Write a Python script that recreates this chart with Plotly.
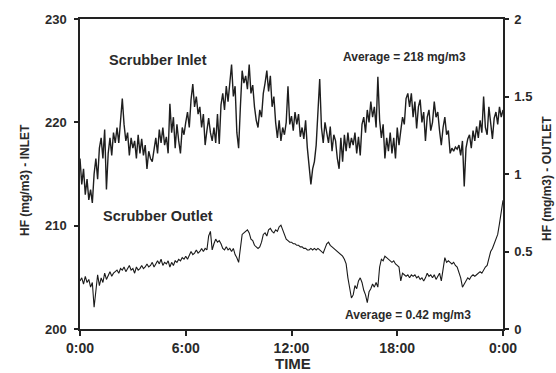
import numpy as np
import plotly.graph_objects as go

# time in hours, 0.1 h steps over one day
hours = np.round(np.arange(0, 24.0001, 0.1), 2)

tick_hours = [0, 6, 12, 18, 24]
tick_labels = ["0:00", "6:00", "12:00", "18:00", "0:00"]
left_ticks = [200, 210, 220, 230]
right_ticks = [0, 0.5, 1, 1.5, 2]
right_tick_labels = ["0", "0.5", "1", "1.5", "2"]

# HF at scrubber inlet, mg/m3 (left axis)
inlet = [
    216.5, 214, 215.5, 213, 214.5, 212.5,
    213.5, 212.2, 215, 216.5, 214.5,
    217.5, 218.5, 216.5, 219.3, 213.5,
    217, 218.5, 216.8, 219, 218,
    219.5, 218, 220.5, 222.3, 219.8,
    218.2, 219, 216.8, 218.5, 217.5,
    218.2, 216.5, 218.8, 217, 218.4,
    216.8, 217.8, 215.5, 217.2, 216.5,
    216.2, 217.5, 218.5, 217, 219.3,
    218, 219.5, 217.8, 218.6, 217,
    221.8, 219, 220.5, 217.5, 219.8,
    218.2, 217, 219.5, 218.8, 220,
    221, 219.5, 222.2, 223.7, 221.5,
    222.5, 220.8, 221.5, 219.5, 220.8,
    217.8, 219.2, 220.4, 219, 218.2,
    219.5, 218, 220.8, 217.9, 221.7,
    222.8, 221.2, 223.5, 222, 224.2,
    225.6, 222.5, 223.5, 219, 217.5,
    221.5, 225, 223.8, 224.5, 223.2,
    225.6, 222.8, 223.6, 221.5, 220.2,
    219.5, 221.2, 220.5, 222.8, 223.8,
    225, 223, 224.5, 221.5, 222.5,
    220, 218.5, 220.2, 218.2, 219.5,
    218.8, 220, 223.5, 219.8, 220.6,
    219.2, 221, 219.8, 220.8, 218.6,
    219.5, 218.4, 220.2, 217.5, 215.8,
    214, 215.5, 216.2, 217.8, 221,
    224.2, 219.5, 218, 220, 219,
    218, 219.6, 217.2, 218.8, 218.2,
    216.5, 215.5, 218.5, 216.2, 218.8,
    217.2, 219, 217.5, 218.5, 217.8,
    219, 217, 218.6, 216.8, 219.8,
    220.5, 219, 221.2, 220, 222,
    220.5, 221.5, 219.5, 224.4, 220.2,
    218.5, 219.8, 216.5, 218.5, 217.2,
    219, 217, 218.5, 216.5, 219.5,
    217.8, 219.2, 220.5, 219.8, 222.3,
    222.8, 221.5, 222.8, 220.5, 222,
    219.4, 221.5, 222.2, 220, 221,
    218.2, 220.5, 221.2, 219.2, 220,
    222, 220.5, 221, 219.2, 217.8,
    219.5, 220.5, 218.8, 219.2, 217,
    217.5, 217.2, 217.6, 217.4, 217.8,
    216.8, 218.2, 213.8, 217.5, 218.4,
    218.8, 217.5, 219.2, 218.2, 219.6,
    218.5, 220.2, 219, 222.5, 219.5,
    218.8, 221.5, 220.2, 218.4, 220.4,
    221, 219.8, 221.5, 220.5, 221.2,
]

# HF at scrubber outlet, mg/m3 (right axis)
outlet = [
    0.31, 0.33, 0.29, 0.34, 0.30,
    0.32, 0.27, 0.30, 0.14, 0.26,
    0.35, 0.28, 0.33, 0.30, 0.36,
    0.32, 0.35, 0.37, 0.34, 0.36,
    0.37, 0.38, 0.36, 0.39, 0.38,
    0.40, 0.37, 0.39, 0.41, 0.38,
    0.39, 0.36, 0.40, 0.38, 0.39,
    0.41, 0.39, 0.40, 0.42, 0.40,
    0.41, 0.43, 0.40, 0.42, 0.44,
    0.42, 0.45, 0.41, 0.43, 0.42,
    0.44, 0.40, 0.43, 0.41, 0.44,
    0.43, 0.45, 0.44, 0.46, 0.45,
    0.47, 0.45, 0.48, 0.50, 0.48,
    0.49, 0.51, 0.49, 0.50, 0.52,
    0.50, 0.52, 0.51, 0.60, 0.63,
    0.51, 0.55, 0.58, 0.56, 0.57,
    0.55, 0.52, 0.51, 0.53, 0.51,
    0.52, 0.50, 0.52, 0.48, 0.46,
    0.43, 0.52, 0.61, 0.62, 0.63,
    0.64, 0.62, 0.58, 0.57, 0.54,
    0.53, 0.52, 0.53, 0.56, 0.61,
    0.62, 0.60, 0.64, 0.65, 0.63,
    0.62, 0.64, 0.63, 0.66, 0.67,
    0.64, 0.60, 0.58, 0.57, 0.56,
    0.56, 0.55, 0.55, 0.54, 0.54,
    0.53, 0.53, 0.52, 0.52, 0.51,
    0.51, 0.52, 0.51, 0.52, 0.51,
    0.52, 0.51, 0.50, 0.49, 0.52,
    0.55, 0.56, 0.54, 0.53, 0.52,
    0.51, 0.50, 0.49, 0.48, 0.47,
    0.45, 0.42, 0.33, 0.26, 0.20,
    0.22, 0.28, 0.26, 0.31, 0.33,
    0.30, 0.25, 0.22, 0.17, 0.24,
    0.26, 0.29, 0.27, 0.30, 0.27,
    0.40, 0.45, 0.44, 0.47, 0.46,
    0.45, 0.44, 0.43, 0.44, 0.42,
    0.41, 0.40, 0.31, 0.36, 0.35,
    0.34, 0.35, 0.33, 0.35, 0.34,
    0.35, 0.33, 0.34, 0.32, 0.33,
    0.31, 0.33, 0.36, 0.34, 0.35,
    0.33, 0.35, 0.32, 0.34, 0.36,
    0.31, 0.40, 0.46, 0.43, 0.44,
    0.43, 0.42, 0.43, 0.41, 0.40,
    0.36, 0.33, 0.27, 0.29, 0.31,
    0.33, 0.32, 0.34, 0.35, 0.34,
    0.35, 0.36, 0.37, 0.36, 0.38,
    0.40, 0.41, 0.46, 0.50, 0.52,
    0.55, 0.57, 0.61, 0.68, 0.76, 0.83,
]

FONT = "Liberation Sans"
TXT = "#2a2a2a"

fig = go.Figure()
fig.add_trace(go.Scatter(x=hours, y=inlet, mode="lines", yaxis="y",
                         line=dict(color="#1e1e1e", width=1.4),
                         name="Scrubber Inlet", showlegend=False))
fig.add_trace(go.Scatter(x=hours, y=outlet, mode="lines", yaxis="y2",
                         line=dict(color="#1a1a1a", width=1.1),
                         name="Scrubber Outlet", showlegend=False))

axis_font = dict(family=FONT, size=13, color=TXT, weight="bold")

fig.update_layout(
    width=556, height=373,
    margin=dict(l=80, r=53, t=17, b=44),
    paper_bgcolor="white", plot_bgcolor="white",
    xaxis=dict(range=[0, 24], tickvals=tick_hours, ticktext=tick_labels,
               showgrid=False, zeroline=False, showline=True, linecolor="#222",
               linewidth=1.5, mirror=True, ticks="outside", ticklen=5,
               tickcolor="#222", tickwidth=1.5,
               tickfont=dict(family=FONT, size=14, color=TXT, weight="bold")),
    yaxis=dict(range=[200, 230], tickvals=left_ticks, showgrid=False,
               zeroline=False, showline=True, linecolor="#222", linewidth=1.5,
               ticks="outside", ticklen=4, tickcolor="#222", tickwidth=1.5,
               ticklabelstandoff=5, tickfont=axis_font),
    yaxis2=dict(range=[0, 2], tickvals=right_ticks, ticktext=right_tick_labels,
                overlaying="y", side="right", showgrid=False, zeroline=False,
                showline=True, linecolor="#222", linewidth=1.5,
                ticks="outside", ticklen=4, tickcolor="#222", tickwidth=1.5,
                ticklabelstandoff=3, tickfont=axis_font),
)

ann = [
    dict(text="Scrubber Inlet", x=158, y=58, size=14.5),
    dict(text="Scrubber Outlet", x=158, y=215, size=14.5),
    dict(text="Average = 218 mg/m3", x=404, y=55, size=12),
    dict(text="Average = 0.42 mg/m3", x=408, y=315, size=12),
]
x0, x1, y0, y1 = 80, 503, 17, 329
for a in ann:
    fig.add_annotation(text=a["text"], xref="paper", yref="paper",
                       x=(a["x"] - x0) / (x1 - x0), y=(y1 - a["y"]) / (y1 - y0),
                       xanchor="center", yanchor="middle", showarrow=False,
                       font=dict(family=FONT, size=a["size"], color=TXT, weight="bold"))

fig.add_annotation(text="TIME", xref="paper", yref="paper",
                   x=(293 - x0) / (x1 - x0), y=(y1 - 364) / (y1 - y0),
                   xanchor="center", yanchor="middle", showarrow=False,
                   font=dict(family=FONT, size=15, color=TXT, weight="bold"))
fig.add_annotation(text="HF (mg/m3) - INLET", xref="paper", yref="paper",
                   x=(25 - x0) / (x1 - x0), y=(y1 - 179) / (y1 - y0),
                   xanchor="center", yanchor="middle", showarrow=False, textangle=-90,
                   font=dict(family=FONT, size=12, color=TXT, weight="bold"))
fig.add_annotation(text="HF (mg/m3) - OUTLET", xref="paper", yref="paper",
                   x=(547 - x0) / (x1 - x0), y=(y1 - 178) / (y1 - y0),
                   xanchor="center", yanchor="middle", showarrow=False, textangle=-90,
                   font=dict(family=FONT, size=12, color=TXT, weight="bold"))

fig.write_html("out.html", config={"displayModeBar": False},
               post_script="document.body.style.margin='0';")
